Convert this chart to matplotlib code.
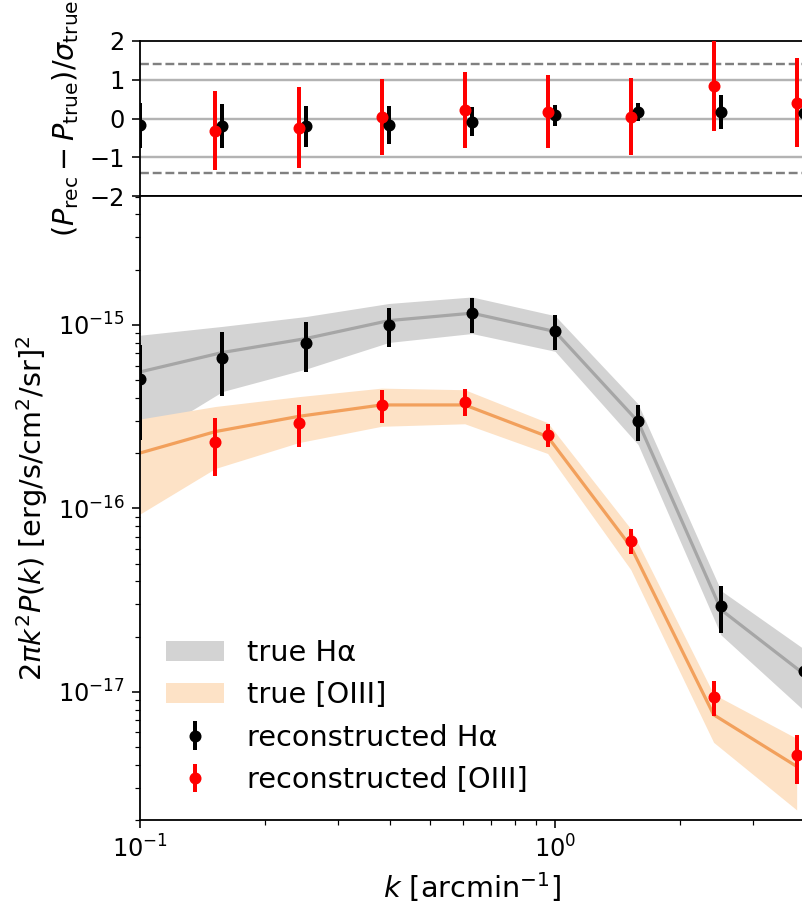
import numpy as np
import matplotlib
matplotlib.use("Agg")
import matplotlib.pyplot as plt
from matplotlib.patches import Patch

# ---------------- data ----------------
k_ha = [0.1, 0.158, 0.251, 0.398, 0.631, 1.0, 1.585, 2.512, 3.981]
k_oiii = [0.096, 0.152, 0.241, 0.382, 0.606, 0.96, 1.522, 2.411, 3.822]

P_true_ha = [5.54e-16, 7.07e-16, 8.42e-16, 1.055e-15, 1.158e-15, 9.2e-16, 2.97e-16, 2.8e-17, 1.25e-17]
sig_true_ha = [3.24e-16, 2.74e-16, 2.68e-16, 2.53e-16, 2.61e-16, 2.02e-16, 7.4e-17, 7.6e-18, 4.6e-18]

P_true_oiii = [1.95e-16, 2.62e-16, 3.17e-16, 3.66e-16, 3.66e-16, 2.46e-16, 6.19e-17, 7.5e-18, 3.92e-18]
sig_true_oiii = [1.07e-16, 9.7e-17, 8.9e-17, 8.6e-17, 7.7e-17, 4.7e-17, 1.55e-17, 2.2e-18, 1.65e-18]

P_rec_ha = [5.06e-16, 6.59e-16, 7.95e-16, 1.0e-15, 1.158e-15, 9.27e-16, 3.0e-16, 2.94e-17, 1.3e-17]
err_rec_ha = [2.7e-16, 2.5e-16, 2.4e-16, 2.43e-16, 2.5e-16, 2.0e-16, 6.7e-17, 8.5e-18, 2.5e-18]

P_rec_oiii = [2.0e-16, 2.31e-16, 2.91e-16, 3.66e-16, 3.82e-16, 2.52e-16, 6.65e-17, 9.42e-18, 4.5e-18]
err_rec_oiii = [8.0e-17, 8.1e-17, 7.5e-17, 7.3e-17, 6.5e-17, 3.7e-17, 1.03e-17, 2.0e-18, 1.34e-18]

res_ha = [-0.17, -0.19, -0.205, -0.17, -0.085, 0.085, 0.16, 0.17, 0.14]
res_ha_err = [0.58, 0.56, 0.54, 0.50, 0.375, 0.27, 0.23, 0.44, 0.30]
res_oiii = [-0.2, -0.31, -0.24, 0.05, 0.22, 0.17, 0.05, 0.83, 0.41]
res_oiii_err = [1.0, 1.03, 1.05, 0.98, 0.98, 0.94, 1.0, 1.16, 1.15]

labels = ["true H\u03b1", "true [OIII]", "reconstructed H\u03b1", "reconstructed [OIII]"]

# ---------------- figure ----------------
W, H, DPI = 802, 909, 144
plt.rcParams.update({
    "xtick.labelsize": 12, "ytick.labelsize": 12,
    "xtick.major.size": 4.2, "ytick.major.size": 4.2,
    "xtick.minor.size": 2.4, "ytick.minor.size": 2.4,
    "axes.linewidth": 0.9,
})
fig = plt.figure(figsize=(W / DPI, H / DPI), dpi=DPI)

def box(x0, y0, x1, y1):
    return [x0 / W, 1 - y1 / H, (x1 - x0) / W, (y1 - y0) / H]

ax_top = fig.add_axes(box(140, 41, 804, 196))
ax = fig.add_axes(box(140, 196, 804, 820))

gray_band = "#d3d3d3"
gray_line = "#a6a6a6"
orange_band = "#fde2c6"
orange_line = "#f2a05c"

# ---------------- top panel ----------------
for v in [-1, 0, 1]:
    ax_top.axhline(v, color="#b3b3b3", lw=1.2, zorder=1)
for v in [-np.sqrt(2), np.sqrt(2)]:
    ax_top.axhline(v, color="gray", lw=1.2, ls="--", zorder=1)
ax_top.errorbar(k_ha, res_ha, yerr=res_ha_err, fmt="o", color="black",
                ms=5, elinewidth=2, capsize=0, zorder=3)
ax_top.errorbar(k_oiii, res_oiii, yerr=res_oiii_err, fmt="o", color="red",
                ms=5, elinewidth=2, capsize=0, zorder=3)
ax_top.set_xscale("log")
ax_top.set_xlim(0.1, 3.981)
ax_top.set_ylim(-2, 2)
ax_top.set_yticks([-2, -1, 0, 1, 2])
ax_top.tick_params(axis="x", which="both", bottom=False, labelbottom=False)
ax_top.set_ylabel(r"$(P_{\rm rec}-P_{\rm true})/\sigma_{\rm true}$", fontsize=14.4)

# ---------------- bottom panel ----------------
Pt_ha = np.array(P_true_ha); St_ha = np.array(sig_true_ha)
Pt_o = np.array(P_true_oiii); St_o = np.array(sig_true_oiii)

ax.fill_between(k_ha, Pt_ha - St_ha, Pt_ha + St_ha, color=gray_band, lw=0, zorder=1)
ax.plot(k_ha, Pt_ha, color=gray_line, lw=1.6, zorder=2)
ax.fill_between(k_oiii, Pt_o - St_o, Pt_o + St_o, color=orange_band, lw=0, zorder=1)
ax.plot(k_oiii, Pt_o, color=orange_line, lw=1.6, zorder=2)

ax.errorbar(k_ha, P_rec_ha, yerr=err_rec_ha, fmt="o", color="black",
            ms=5, elinewidth=2, capsize=0, zorder=3)
ax.errorbar(k_oiii, P_rec_oiii, yerr=err_rec_oiii, fmt="o", color="red",
            ms=5, elinewidth=2, capsize=0, zorder=3)

ax.set_xscale("log")
ax.set_yscale("log")
ax.set_xlim(0.1, 3.981)
ax.set_ylim(2.0e-18, 5.04e-15)
ax.set_xlabel(r"$k$ [arcmin$^{-1}$]", fontsize=14.4)
ax.set_ylabel(r"$2\pi k^2P(k)$ [erg/s/cm$^2$/sr]$^2$", fontsize=14.4)

handles = [
    Patch(facecolor=gray_band, edgecolor="none"),
    Patch(facecolor=orange_band, edgecolor="none"),
    ax.errorbar([], [], yerr=[], fmt="o", color="black", ms=5, elinewidth=2),
    ax.errorbar([], [], yerr=[], fmt="o", color="red", ms=5, elinewidth=2),
]
ax.legend(handles, labels, loc="lower left", frameon=False, fontsize=14.4,
          borderaxespad=0.5)

fig.savefig("out.png", dpi=DPI)
